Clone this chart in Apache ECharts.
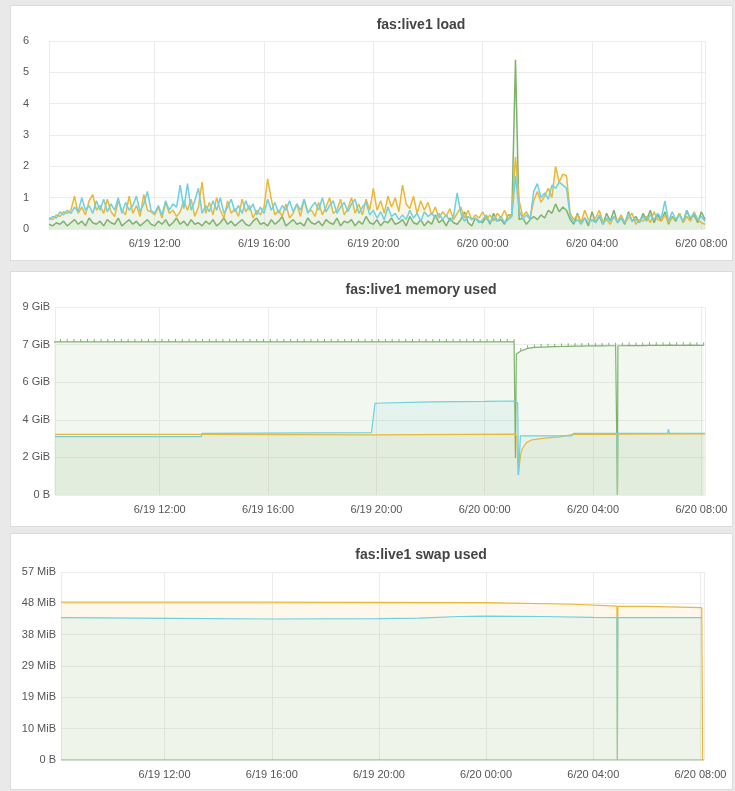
<!DOCTYPE html>
<html>
<head>
<meta charset="utf-8">
<title>fas:live1</title>
<script src="https://cdn.jsdelivr.net/npm/echarts@6/dist/echarts.min.js"></script>
<style>
  body { margin: 0; background: #e9e9e9; width: 735px; height: 791px; overflow: hidden; }
  .panel { position: absolute; left: 10px; width: 723px; background: #fff; border: 1px solid #dcdcdc; box-sizing: border-box; }
</style>
</head>
<body>
<div class="panel" id="load" style="top:5px;height:256px"></div>
<div class="panel" id="mem" style="top:271px;height:256px"></div>
<div class="panel" id="swap" style="top:533px;height:257px"></div>
<script>
// load samples: every 8 minutes from 6/19 08:08
var loadStart = new Date(2017, 5, 19, 8, 8).getTime();
var loadStep = 8 * 60 * 1000;

var load1 = [
  0.15, 0.1, 0.2, 0.15, 0.25, 0.1, 0.2,
  0.3, 0.15, 0.25, 0.1, 0.35, 0.2, 0.15,
  0.25, 0.1, 0.3, 0.2, 0.15, 0.35, 0.1, 0.2,
  0.3, 0.15, 0.25, 0.1, 0.2, 0.3, 0.15,
  0.1, 0.25, 0.15, 0.3, 0.1, 0.2, 0.35, 0.15,
  0.25, 0.1, 0.3, 0.15, 0.2, 0.1, 0.25,
  0.15, 0.3, 0.1, 0.2, 0.35, 0.15, 0.25, 0.1,
  0.2, 0.3, 0.15, 0.1, 0.25, 0.35, 0.15,
  0.2, 0.1, 0.3, 0.15, 0.25, 0.4, 0.1, 0.2,
  0.3, 0.15, 0.2, 0.1, 0.35, 0.2, 0.15,
  0.25, 0.1, 0.3, 0.2, 0.15, 0.35, 0.1, 0.25,
  0.2, 0.3, 0.1, 0.25, 0.15, 0.4, 0.2,
  0.15, 0.3, 0.1, 0.25, 0.2, 0.35, 0.15, 0.2,
  0.3, 0.1, 0.4, 0.2, 0.15, 0.3, 0.1,
  0.25, 0.15, 0.45, 0.2, 0.3, 0.1, 0.35, 0.2,
  0.15, 0.3, 0.55, 0.2, 0.1, 0.35, 0.25,
  0.2, 0.4, 0.15, 0.5, 0.25, 0.3, 0.15, 0.45,
  0.45, 5.4, 0.3, 0.35, 0.15, 0.3, 0.4,
  0.3, 0.45, 0.35, 0.6, 0.5, 0.8, 0.55, 0.7,
  0.6, 0.3, 0.15, 0.5, 0.2, 0.35, 0.1,
  0.55, 0.2, 0.4, 0.15, 0.5, 0.25, 0.6, 0.2,
  0.35, 0.15, 0.55, 0.25, 0.4, 0.2, 0.5,
  0.3, 0.6, 0.2, 0.45, 0.25, 0.55, 0.15, 0.4,
  0.25, 0.5, 0.2, 0.6, 0.3, 0.45, 0.2,
  0.55, 0.3
];
var load5 = [
  0.35, 0.3, 0.45, 0.4, 0.55, 0.5, 0.6,
  1.05, 0.5, 0.7, 0.45, 0.9, 1.1, 0.6,
  0.75, 0.5, 0.95, 0.55, 0.4, 0.9, 0.6, 0.45,
  1.05, 0.5, 0.75, 0.4, 1.1, 0.6, 0.55,
  0.45, 0.7, 0.35, 0.85, 0.5, 0.6, 0.4, 0.55,
  0.9, 0.6, 0.95, 0.4, 0.7, 1.5, 0.5,
  0.85, 0.45, 1.0, 0.6, 0.35, 0.9, 0.5, 0.65,
  0.4, 0.95, 0.55, 0.75, 0.35, 0.6, 0.45,
  0.7, 1.6, 0.95, 0.45, 0.6, 0.4, 0.8, 0.35,
  0.5, 0.8, 0.4, 0.95, 0.55, 0.6, 0.4,
  0.85, 0.45, 0.7, 1.0, 0.5, 0.6, 0.95, 0.45,
  0.65, 1.0, 0.5, 0.8, 0.45, 0.95, 0.6,
  1.3, 0.6, 0.9, 0.5, 1.05, 0.7, 1.0, 0.55,
  1.4, 0.8, 0.65, 1.05, 0.5, 0.9, 0.6,
  0.85, 0.45, 0.7, 0.35, 0.55, 0.4, 0.65, 0.3,
  0.5, 0.7, 0.35, 0.6, 0.3, 0.45, 0.35,
  0.55, 0.3, 0.45, 0.25, 0.5, 0.35, 0.6, 0.3,
  0.5, 2.3, 0.9, 0.4, 0.55, 0.35, 0.9,
  1.2, 0.85, 1.05, 1.3, 1.0, 2.0, 1.5, 1.75,
  1.7, 0.5, 0.3, 0.45, 0.2, 0.6, 0.3,
  0.25, 0.35, 0.6, 0.2, 0.3, 0.15, 0.4, 0.25,
  0.45, 0.2, 0.35, 0.5, 0.15, 0.3, 0.25,
  0.4, 0.2, 0.55, 0.3, 0.25, 0.45, 0.2, 0.35,
  0.3, 0.5, 0.2, 0.4, 0.25, 0.55, 0.3,
  0.2, 0.15
];
var load15 = [
  0.3, 0.4, 0.35, 0.55, 0.45, 0.6, 0.5,
  0.7, 0.55, 1.0, 0.6, 0.75, 0.5, 0.9,
  0.6, 0.95, 0.55, 0.8, 0.6, 1.0, 0.5, 0.85,
  0.6, 0.75, 1.05, 0.55, 0.8, 1.2, 0.6,
  0.5, 0.75, 0.45, 0.9, 0.6, 0.8, 0.7, 1.4,
  0.65, 1.45, 0.6, 0.9, 1.3, 0.5, 0.75,
  0.55, 0.9, 0.6, 1.0, 0.5, 0.7, 0.95, 0.55,
  0.75, 0.5, 0.9, 0.6, 0.8, 0.45, 0.7,
  0.5, 0.95, 0.6, 0.85, 0.5, 0.75, 0.6, 0.9,
  0.55, 0.8, 0.6, 0.95, 0.5, 0.7, 0.85,
  0.6, 1.0, 0.55, 0.75, 0.9, 0.5, 0.7, 0.85,
  0.55, 0.8, 0.95, 0.5, 0.7, 0.85, 0.45,
  0.6, 0.35, 0.55, 0.3, 0.7, 0.4, 0.5, 0.3,
  0.45, 0.3, 0.6, 0.35, 0.5, 0.25, 0.55,
  0.4, 0.5, 0.35, 0.5, 0.3, 0.45, 0.25, 0.4,
  1.15, 0.5, 0.25, 0.4, 0.3, 0.35, 0.2,
  0.3, 0.45, 0.2, 0.35, 0.25, 0.4, 0.2, 0.3,
  0.4, 1.7, 0.6, 0.3, 0.45, 0.3, 1.2,
  1.45, 1.0, 1.15, 0.95, 1.4, 1.3, 1.5, 1.4,
  1.3, 0.4, 0.2, 0.3, 0.15, 0.35, 0.2,
  0.3, 0.2, 0.45, 0.15, 0.35, 0.25, 0.4, 0.2,
  0.35, 0.2, 0.5, 0.25, 0.3, 0.2, 0.4,
  0.25, 0.45, 0.3, 0.5, 0.35, 0.9, 0.25, 0.55,
  0.3, 0.45, 0.25, 0.6, 0.35, 0.5, 0.3,
  0.4, 0.25
];

// memory (GB, 1e9 bytes); first series sampled every 15 min from 6/19 08:05
var memStart = new Date(2017, 5, 19, 8, 5).getTime();
var memStep = 15 * 60 * 1000;
var memTotal = [
  8.14, 8.14, 8.14, 8.14, 8.14, 8.14, 8.14, 8.14, 8.14, 8.14,
  8.14, 8.14, 8.14, 8.14, 8.14, 8.14, 8.14, 8.14, 8.14, 8.14,
  8.14, 8.14, 8.14, 8.14, 8.14, 8.14, 8.14, 8.14, 8.14, 8.14,
  8.14, 8.14, 8.14, 8.14, 8.14, 8.14, 8.14, 8.14, 8.14, 8.14,
  8.14, 8.14, 8.14, 8.14, 8.14, 8.14, 8.14, 8.14, 8.14, 8.14,
  8.14, 8.14, 8.14, 8.14, 8.14, 8.14, 8.14, 8.14, 8.14, 8.14,
  8.14, 8.14, 8.14, 8.14, 8.14, 8.14, 8.14, 8.14, 8.14, 7.66,
  7.8, 7.85, 7.87, 7.88, 7.89, 7.9, 7.91, 7.92, 7.92, 7.93,
  7.93, 7.93, 7.94, 7.94, 7.94, 7.95, 7.95, 7.95, 7.96, 7.96,
  7.96, 7.97, 7.96, 7.96, 7.97, 7.96, 7.96
];
var memTotalDips = [
  ['2017-06-20 01:07', 8.14], ['2017-06-20 01:08', 1.97], ['2017-06-20 01:10', 7.5],
  ['2017-06-20 04:53', 7.94], ['2017-06-20 04:54', 0], ['2017-06-20 04:55', 7.94]
];
var memB = [
  ['2017-06-19 08:08', 3.23], ['2017-06-19 13:32', 3.23], ['2017-06-19 13:34', 3.19],
  ['2017-06-19 19:50', 3.2], ['2017-06-20 01:08', 3.24], ['2017-06-20 01:11', 3.1],
  ['2017-06-20 01:14', 1.06], ['2017-06-20 01:20', 2.2], ['2017-06-20 01:24', 2.5],
  ['2017-06-20 01:33', 2.8], ['2017-06-20 01:44', 2.93], ['2017-06-20 02:13', 3.03],
  ['2017-06-20 02:46', 3.09], ['2017-06-20 03:13', 3.22], ['2017-06-20 04:53', 3.24],
  ['2017-06-20 04:54', 0], ['2017-06-20 04:55', 3.24], ['2017-06-20 08:08', 3.25]
];
var memC = [
  ['2017-06-19 08:08', 3.1], ['2017-06-19 13:32', 3.1], ['2017-06-19 13:34', 3.28],
  ['2017-06-19 17:40', 3.3], ['2017-06-19 19:49', 3.31], ['2017-06-19 19:57', 4.88],
  ['2017-06-19 22:00', 4.95], ['2017-06-20 00:00', 4.98], ['2017-06-20 01:07', 5.0],
  ['2017-06-20 01:13', 4.9], ['2017-06-20 01:15', 1.06], ['2017-06-20 01:19', 3.14],
  ['2017-06-20 03:13', 3.15], ['2017-06-20 03:17', 3.28], ['2017-06-20 04:53', 3.28],
  ['2017-06-20 04:54', 0], ['2017-06-20 04:55', 3.28], ['2017-06-20 06:45', 3.28],
  ['2017-06-20 06:47', 3.5], ['2017-06-20 06:49', 3.28], ['2017-06-20 08:08', 3.28]
];

// swap (MB, 1e6 bytes)
var swapA = [['2017-06-19 08:08', 0], ['2017-06-20 08:08', 0]];
var swapB = [
  ['2017-06-19 08:08', 50.4], ['2017-06-19 15:08', 50.4], ['2017-06-19 15:12', 50.2],
  ['2017-06-20 00:00', 50.2], ['2017-06-20 00:04', 49.7], ['2017-06-20 03:15', 49.7],
  ['2017-06-20 03:19', 49.1], ['2017-06-20 04:53', 49.1], ['2017-06-20 04:54', 0],
  ['2017-06-20 04:55', 49.0], ['2017-06-20 05:58', 49.0], ['2017-06-20 06:02', 48.6],
  ['2017-06-20 08:03', 48.6], ['2017-06-20 08:05', 0]
];
var swapC = [
  ['2017-06-19 08:08', 45.45], ['2017-06-19 12:20', 45.2], ['2017-06-19 16:00', 45.0],
  ['2017-06-19 20:00', 45.1], ['2017-06-19 21:30', 45.3], ['2017-06-19 23:00', 45.8],
  ['2017-06-20 00:00', 45.9], ['2017-06-20 02:00', 45.8], ['2017-06-20 04:00', 45.55],
  ['2017-06-20 04:53', 45.45], ['2017-06-20 04:54', 0], ['2017-06-20 04:55', 45.45],
  ['2017-06-20 08:03', 45.45]
];

var colors = ['#7EB26D', '#EAB839', '#6ED0E0'];
var font = '"Liberation Sans", Arial, sans-serif';
var xMin = new Date(2017, 5, 19, 8, 8).getTime();
var xMax = new Date(2017, 5, 20, 8, 8).getTime();

function t(s) {
  var p = s.split(/[- :]/);
  return new Date(+p[0], +p[1] - 1, +p[2], +p[3], +p[4]).getTime();
}
function pad(n) { return n < 10 ? '0' + n : '' + n; }
function fmtTime(v) {
  var d = new Date(v);
  return (d.getMonth() + 1) + '/' + d.getDate() + ' ' + pad(d.getHours()) + ':' + pad(d.getMinutes());
}
function pairs(list, unit) {
  return list.map(function (p) { return [t(p[0]), p[1] * unit]; });
}

function xAxis() {
  return {
    type: 'time', min: xMin, max: xMax,
    minInterval: 4 * 3600 * 1000, maxInterval: 4 * 3600 * 1000,
    axisLine: { show: false }, axisTick: { show: false },
    axisLabel: { color: '#555', fontSize: 11, fontFamily: font, margin: 9,
      showMinLabel: false, showMaxLabel: false, formatter: fmtTime },
    splitLine: { show: true, lineStyle: { color: '#ececec' } }
  };
}
function yAxis(max, interval, margin, fmt) {
  return {
    type: 'value', min: 0, max: max, interval: interval,
    axisLine: { show: false }, axisTick: { show: false },
    axisLabel: { color: '#555', fontSize: 11, fontFamily: font, margin: margin, formatter: fmt },
    splitLine: { lineStyle: { color: '#ececec' } }
  };
}
function line(name, data, color, width, extra) {
  var s = {
    name: name, type: 'line', data: data, showSymbol: false, smooth: false,
    lineStyle: { color: color, width: width }, itemStyle: { color: color },
    areaStyle: { color: color, opacity: 0.1 }, emphasis: { disabled: true }
  };
  for (var k in extra) s[k] = extra[k];
  return s;
}
function title(text, x, top) {
  return { text: text, left: x, top: top, textAlign: 'center',
    textStyle: { fontSize: 14, fontWeight: 'bold', color: '#444', fontFamily: font } };
}
function gib(v) { return v === 0 ? '0 B' : Math.round(v / Math.pow(2, 30)) + ' GiB'; }
function mib(v) { return v === 0 ? '0 B' : Math.round(v / Math.pow(2, 20)) + ' MiB'; }

// load panel
var loadChart = echarts.init(document.getElementById('load'));
function loadData(vals) {
  return vals.map(function (v, i) { return [loadStart + i * loadStep, v]; });
}
loadChart.setOption({
  animation: false,
  title: title('fas:live1 load', 405, 7),
  grid: { left: 38, top: 35, width: 656, height: 188 },
  xAxis: xAxis(),
  yAxis: yAxis(6, 1, 20),
  series: [
    line('load1', loadData(load1), colors[0], 1.5),
    line('load5', loadData(load5), colors[1], 1.5),
    line('load15', loadData(load15), colors[2], 1.5)
  ]
});

// memory panel
var memChart = echarts.init(document.getElementById('mem'));
var totalData = memTotal.map(function (v, i) { return [memStart + i * memStep, v * 1e9]; });
memTotalDips.forEach(function (p) {
  totalData.push({ value: [t(p[0]), p[1] * 1e9], symbol: 'none' });
});
totalData.sort(function (a, b) {
  var ta = a.value ? a.value[0] : a[0];
  var tb = b.value ? b.value[0] : b[0];
  return ta - tb;
});
memChart.setOption({
  animation: false,
  title: title('fas:live1 memory used', 405, 6),
  grid: { left: 44, top: 35, width: 650, height: 188 },
  xAxis: xAxis(),
  yAxis: yAxis(10e9, 2e9, 5, gib),
  series: [
    line('used', totalData, colors[0], 1.2, { showSymbol: true, showAllSymbol: true,
      symbol: 'rect', symbolSize: [1, 3], symbolOffset: [0, -1.5] }),
    line('buffers', pairs(memB, 1e9), colors[1], 1.2),
    line('cached', pairs(memC, 1e9), colors[2], 1.2)
  ]
});

// swap panel
var swapChart = echarts.init(document.getElementById('swap'));
swapChart.setOption({
  animation: false,
  title: title('fas:live1 swap used', 405, 9),
  grid: { left: 50, top: 38, width: 643, height: 188 },
  xAxis: xAxis(),
  yAxis: yAxis(60e6, 10e6, 5, mib),
  series: [
    line('swap a', pairs(swapA, 1e6), colors[0], 1.2),
    line('swap b', pairs(swapB, 1e6), colors[1], 1.2),
    line('swap c', pairs(swapC, 1e6), colors[2], 1.2)
  ]
});
</script>
</body>
</html>
